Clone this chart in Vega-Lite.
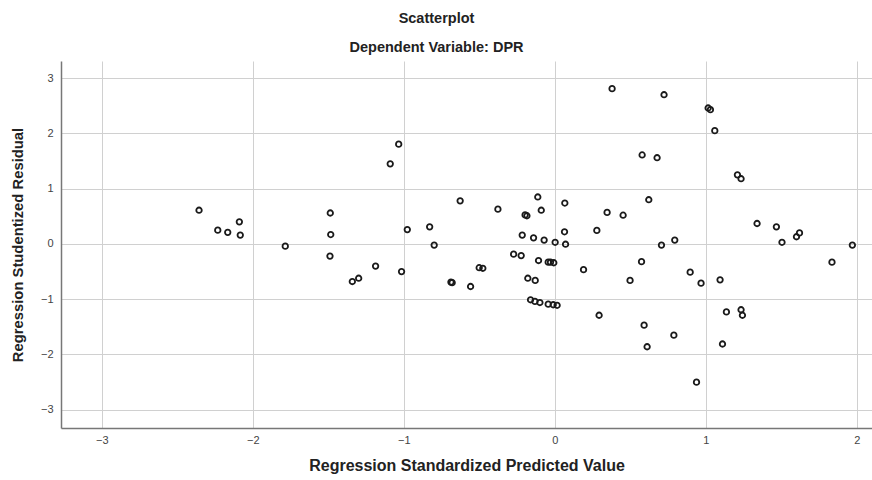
{
  "$schema": "https://vega.github.io/schema/vega-lite/v6.json",
  "autosize": {"type": "none"},
  "width": 811,
  "height": 367,
  "padding": {"left": 61, "top": 61, "right": 0, "bottom": 52},
  "background": "white",
  "config": {
    "view": {"stroke": null},
    "font": "Liberation Sans"
  },
  "title": {
    "text": "Scatterplot",
    "subtitle": "Dependent Variable: DPR",
    "anchor": "middle",
    "dx": -30,
    "offset": 6,
    "fontSize": 14.5,
    "fontWeight": "bold",
    "color": "#222222",
    "subtitleFontSize": 14.5,
    "subtitleFontWeight": "bold",
    "subtitleColor": "#222222",
    "subtitlePadding": 14
  },
  "data": {
    "values": [
      {"pred": -2.356, "resid": 0.61},
      {"pred": -2.232, "resid": 0.25},
      {"pred": -2.166, "resid": 0.21},
      {"pred": -2.089, "resid": 0.40},
      {"pred": -2.083, "resid": 0.16},
      {"pred": -1.785, "resid": -0.04},
      {"pred": -1.487, "resid": 0.56},
      {"pred": -1.484, "resid": 0.17},
      {"pred": -1.489, "resid": -0.22},
      {"pred": -1.034, "resid": 1.805},
      {"pred": -1.09, "resid": 1.45},
      {"pred": -0.627, "resid": 0.78},
      {"pred": -0.377, "resid": 0.63},
      {"pred": -0.113, "resid": 0.85},
      {"pred": 0.066, "resid": 0.74},
      {"pred": -0.197, "resid": 0.525},
      {"pred": -0.185, "resid": 0.51},
      {"pred": -0.09, "resid": 0.61},
      {"pred": -0.977, "resid": 0.26},
      {"pred": -0.829, "resid": 0.31},
      {"pred": -0.799, "resid": -0.02},
      {"pred": -0.216, "resid": 0.16},
      {"pred": -0.141, "resid": 0.11},
      {"pred": -0.071, "resid": 0.07},
      {"pred": 0.002, "resid": 0.03},
      {"pred": 0.064, "resid": 0.22},
      {"pred": 0.071, "resid": -0.005},
      {"pred": 0.278, "resid": 0.245},
      {"pred": -0.273, "resid": -0.185},
      {"pred": -0.223, "resid": -0.21},
      {"pred": -1.187, "resid": -0.40},
      {"pred": -1.341, "resid": -0.68},
      {"pred": -1.299, "resid": -0.62},
      {"pred": -1.015, "resid": -0.50},
      {"pred": -0.688, "resid": -0.69},
      {"pred": -0.680, "resid": -0.70},
      {"pred": -0.558, "resid": -0.77},
      {"pred": -0.501, "resid": -0.43},
      {"pred": -0.477, "resid": -0.44},
      {"pred": -0.108, "resid": -0.30},
      {"pred": -0.044, "resid": -0.33},
      {"pred": -0.029, "resid": -0.33},
      {"pred": -0.007, "resid": -0.34},
      {"pred": 0.19, "resid": -0.465},
      {"pred": -0.179, "resid": -0.62},
      {"pred": -0.130, "resid": -0.66},
      {"pred": -0.161, "resid": -1.01},
      {"pred": -0.132, "resid": -1.04},
      {"pred": -0.099, "resid": -1.06},
      {"pred": -0.044, "resid": -1.09},
      {"pred": -0.011, "resid": -1.10},
      {"pred": 0.015, "resid": -1.11},
      {"pred": 0.293, "resid": -1.29},
      {"pred": 0.379, "resid": 2.81},
      {"pred": 0.723, "resid": 2.70},
      {"pred": 1.015, "resid": 2.46},
      {"pred": 1.03, "resid": 2.43},
      {"pred": 1.059, "resid": 2.05},
      {"pred": 0.578, "resid": 1.61},
      {"pred": 0.677, "resid": 1.56},
      {"pred": 1.209, "resid": 1.25},
      {"pred": 1.233, "resid": 1.18},
      {"pred": 0.622, "resid": 0.80},
      {"pred": 0.346, "resid": 0.57},
      {"pred": 0.452, "resid": 0.52},
      {"pred": 0.706, "resid": -0.02},
      {"pred": 0.794, "resid": 0.07},
      {"pred": 1.339, "resid": 0.37},
      {"pred": 1.467, "resid": 0.31},
      {"pred": 1.504, "resid": 0.03},
      {"pred": 1.60, "resid": 0.13},
      {"pred": 1.62, "resid": 0.20},
      {"pred": 1.97, "resid": -0.02},
      {"pred": 0.574, "resid": -0.32},
      {"pred": 0.498, "resid": -0.66},
      {"pred": 0.896, "resid": -0.51},
      {"pred": 0.968, "resid": -0.71},
      {"pred": 1.094, "resid": -0.65},
      {"pred": 1.835, "resid": -0.33},
      {"pred": 0.591, "resid": -1.47},
      {"pred": 1.136, "resid": -1.23},
      {"pred": 1.233, "resid": -1.19},
      {"pred": 1.242, "resid": -1.29},
      {"pred": 0.788, "resid": -1.65},
      {"pred": 0.611, "resid": -1.86},
      {"pred": 1.11, "resid": -1.81},
      {"pred": 0.938, "resid": -2.50}
    ]
  },
  "mark": {
    "type": "point",
    "shape": "circle",
    "filled": false,
    "stroke": "#1a1a1a",
    "strokeWidth": 1.8,
    "size": 30,
    "opacity": 1
  },
  "encoding": {
    "x": {
      "field": "pred",
      "type": "quantitative",
      "scale": {"domain": [-3.27, 2.1], "nice": false, "zero": false},
      "axis": {
        "title": "Regression Standardized Predicted Value",
        "values": [-3, -2, -1, 0, 1, 2],
        "ticks": false,
        "labelPadding": 6,
        "labelFontSize": 11,
        "labelColor": "#444444",
        "titleFontSize": 16,
        "titleFontWeight": "bold",
        "titleColor": "#222222",
        "titlePadding": 12,
        "domainColor": "#777777",
        "domainWidth": 1.5,
        "grid": true,
        "gridColor": "#d0d0d0",
        "gridWidth": 1
      }
    },
    "y": {
      "field": "resid",
      "type": "quantitative",
      "scale": {"domain": [-3.33, 3.31], "nice": false, "zero": false},
      "axis": {
        "title": "Regression Studentized Residual",
        "values": [-3, -2, -1, 0, 1, 2, 3],
        "ticks": false,
        "labelPadding": 8,
        "labelFontSize": 11,
        "labelColor": "#444444",
        "titleFontSize": 14.8,
        "titleFontWeight": "bold",
        "titleColor": "#222222",
        "titlePadding": 15,
        "domainColor": "#777777",
        "domainWidth": 1.5,
        "grid": true,
        "gridColor": "#d0d0d0",
        "gridWidth": 1
      }
    }
  }
}
